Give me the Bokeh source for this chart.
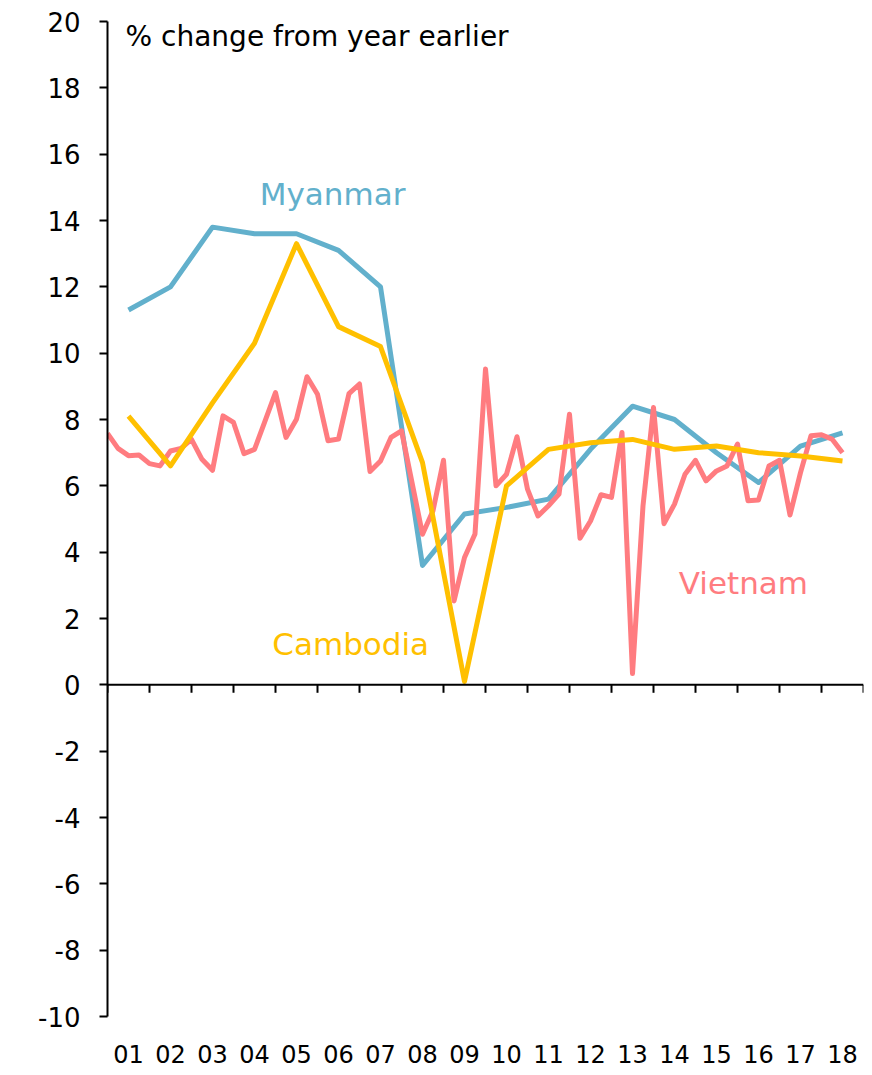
from bokeh.plotting import figure
from bokeh.models import FixedTicker, Label, Range1d, Span
from bokeh.embed import file_html
from bokeh.resources import INLINE

# ---- data ----
year_labels = ["01", "02", "03", "04", "05", "06", "07", "08", "09",
               "10", "11", "12", "13", "14", "15", "16", "17", "18"]
y_ticks = [-10, -8, -6, -4, -2, 0, 2, 4, 6, 8, 10, 12, 14, 16, 18, 20]

myanmar = [11.3, 12.0, 13.8, 13.6, 13.6, 13.1, 12.0, 3.6, 5.15,
           5.35, 5.6, 7.1, 8.4, 8.0, 7.0, 6.1, 7.2, 7.6]
cambodia = [8.1, 6.6, 8.5, 10.3, 13.3, 10.8, 10.2, 6.7, 0.1,
            6.0, 7.1, 7.3, 7.4, 7.1, 7.2, 7.0, 6.9, 6.75]
# Vietnam, quarterly, 2001Q1 .. 2018Q3
vietnam_q = [7.58, 7.13, 6.91, 6.93, 6.67, 6.60, 7.05, 7.13,
             7.40, 6.80, 6.47, 8.11, 7.91, 6.97, 7.10, 7.95,
             8.81, 7.46, 8.01, 9.29, 8.76, 7.36, 7.41, 8.78,
             9.07, 6.43, 6.75, 7.46, 7.66, 6.10, 4.54, 5.25,
             6.77, 2.53, 3.84, 4.55, 9.52, 6.00, 6.35, 7.48,
             5.90, 5.09, 5.40, 5.75, 8.16, 4.42, 4.94, 5.73,
             5.65, 7.61, 0.34, 5.40, 8.36, 4.86, 5.45, 6.35,
             6.77, 6.15, 6.45, 6.60, 7.26, 5.55, 5.57, 6.60,
             6.77, 5.12, 6.40, 7.51, 7.54, 7.41, 7.00]

x_year = [i + 1 for i in range(len(year_labels))]
x_quarter = [0.5 + k / 4 for k in range(len(vietnam_q))]
year_bounds = [0.5 + i for i in range(len(year_labels) + 1)]

FONT = "DejaVu Sans"
BLUE = "#62B0CC"
YELLOW = "#FFC000"
PINK = "#FF7C80"

p = figure(width=870, height=1072,
           x_range=Range1d(0.5, 18.5), y_range=Range1d(-10, 20),
           output_backend="svg", toolbar_location=None,
           min_border_left=107, min_border_top=21,
           min_border_right=7, min_border_bottom=56)
p.outline_line_color = None
p.xgrid.visible = False
p.ygrid.visible = False
p.background_fill_color = "white"

# y axis
yax = p.yaxis[0]
yax.ticker = FixedTicker(ticks=y_ticks)
yax.major_label_overrides = {t: str(t) for t in y_ticks}
yax.major_tick_out = 8
yax.major_tick_in = 0
yax.minor_tick_out = 0
yax.minor_tick_in = 0
yax.axis_line_width = 2
yax.major_tick_line_width = 2
yax.axis_line_color = "black"
yax.major_tick_line_color = "black"
yax.major_label_text_font = FONT
yax.major_label_text_font_size = "26px"
yax.major_label_text_color = "black"
yax.major_label_standoff = 19

# bottom axis: labels only
xax = p.xaxis[0]
xax.ticker = FixedTicker(ticks=x_year)
xax.major_label_overrides = {x: lab for x, lab in zip(x_year, year_labels)}
xax.axis_line_color = None
xax.major_tick_line_color = None
xax.minor_tick_line_color = None
xax.major_tick_out = 0
xax.major_tick_in = 0
xax.major_label_text_font = FONT
xax.major_label_text_font_size = "24px"
xax.major_label_text_color = "black"
xax.major_label_standoff = 28

# axis line at zero with year-boundary tick marks
p.add_layout(Span(location=0, dimension="width", line_color="black", line_width=2))
tick_len = 0.24  # in y units (about 8 px)
p.segment(x0=year_bounds, y0=[0] * len(year_bounds),
          x1=year_bounds, y1=[-tick_len] * len(year_bounds),
          line_color="black", line_width=2)

# series
p.line(x_year, myanmar, line_color=BLUE, line_width=5, line_join="round")
p.line(x_quarter, vietnam_q, line_color=PINK, line_width=5, line_join="round")
p.line(x_year, cambodia, line_color=YELLOW, line_width=5, line_join="round")

# texts
p.add_layout(Label(x=0.93, y=19.55, text="% change from year earlier",
                   text_font=FONT, text_font_size="28px", text_color="black",
                   text_baseline="middle", text_align="left"))
p.add_layout(Label(x=5.86, y=14.8, text="Myanmar", text_font=FONT,
                   text_font_size="31px", text_color=BLUE,
                   text_baseline="middle", text_align="center"))
p.add_layout(Label(x=6.29, y=1.24, text="Cambodia", text_font=FONT,
                   text_font_size="31px", text_color=YELLOW,
                   text_baseline="middle", text_align="center"))
p.add_layout(Label(x=15.64, y=3.08, text="Vietnam", text_font=FONT,
                   text_font_size="31px", text_color=PINK,
                   text_baseline="middle", text_align="center"))

open("out.html", "w").write(file_html(p, INLINE))
